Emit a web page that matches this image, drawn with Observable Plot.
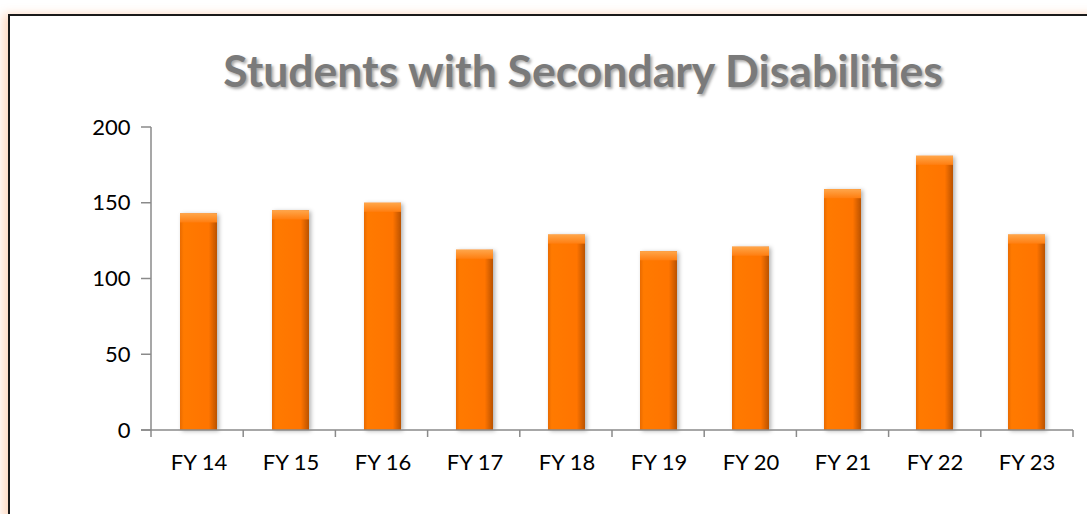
<!DOCTYPE html>
<html>
<head>
<meta charset="utf-8">
<script src="https://cdn.jsdelivr.net/npm/d3@7"></script>
<script src="https://cdn.jsdelivr.net/npm/@observablehq/plot@0.6"></script>
<style>
  html, body { margin: 0; padding: 0; background: #fff; width: 1087px; height: 514px; overflow: hidden; }
  #frame { position: absolute; left: 8px; top: 14px; width: 1100px; height: 520px; border: 2px solid #1a1a1a; box-shadow: -5px 0 9px rgba(255,150,80,0.35); }
  #title { position: absolute; left: 0; width: 1166px; top: 44px; text-align: center; font-family: Lato, "Open Sans", sans-serif; font-weight: bold; font-size: 44.5px; line-height: 52px; color: #7a7a7a; text-shadow: 2px 2px 3px rgba(0,0,0,0.35); white-space: nowrap; }
  #chart { position: absolute; left: 0; top: 100px; }
</style>
</head>
<body>
<div id="frame"></div>
<div id="title">Students with Secondary Disabilities</div>
<div id="chart"></div>
<script>
const categories = ["FY 14", "FY 15", "FY 16", "FY 17", "FY 18", "FY 19", "FY 20", "FY 21", "FY 22", "FY 23"];
const values = [143, 145, 150, 119, 129, 118, 121, 159, 181, 129];
const yTicks = [0, 50, 100, 150, 200];

const data = categories.map((c, i) => ({cat: c, value: values[i]}));

const axisColor = "#8a8a8a";

const axisLines = (index, scales, values_, dims) => {
  const g = d3.create("svg:g");
  const y = scales.y;
  const left = dims.marginLeft, right = dims.width - dims.marginRight;
  const y0 = y(0), yTop = y(200);
  g.append("line").attr("x1", left).attr("x2", left).attr("y1", yTop).attr("y2", y0 + 7)
    .attr("stroke", axisColor).attr("stroke-width", 1.5);
  g.append("line").attr("x1", left - 10).attr("x2", right).attr("y1", y0).attr("y2", y0)
    .attr("stroke", axisColor).attr("stroke-width", 1.5);
  const n = categories.length;
  const step = (right - left) / n;
  for (let i = 1; i <= n; i++) {
    const xx = left + i * step;
    g.append("line").attr("x1", xx).attr("x2", xx).attr("y1", y0).attr("y2", y0 + 7)
      .attr("stroke", axisColor).attr("stroke-width", 1.5);
  }
  for (const t of yTicks) {
    g.append("line").attr("x1", left - 10).attr("x2", left).attr("y1", y(t)).attr("y2", y(t))
      .attr("stroke", axisColor).attr("stroke-width", 1.5);
  }
  return g.node();
};

const plot = Plot.plot({
  width: 1087,
  height: 390,
  marginLeft: 151,
  marginRight: 14,
  marginTop: 27,
  marginBottom: 60,
  style: {fontFamily: "Lato, 'Open Sans', sans-serif", fontSize: "22px", color: "#000", background: "transparent"},
  x: {domain: categories, paddingInner: 0.6, paddingOuter: 0.3, label: null},
  y: {domain: [0, 200], label: null},
  marks: [
    Plot.barY(data, {x: "cat", y: "value", fill: "url(#barGrad)"}),
    Plot.rectY(data, {x: "cat", y1: d => d.value - 6, y2: "value", fill: "url(#capGrad)"}),
    axisLines,
    Plot.axisY({ticks: yTicks, tickSize: 0, tickPadding: 21, fontSize: 22, fill: "#000"}),
    Plot.axisX({tickSize: 0, tickPadding: 24, fontSize: 22, fill: "#000"})
  ]
});

const svg = d3.select(plot);
const defs = svg.insert("defs", ":first-child");
const g1 = defs.append("linearGradient").attr("id", "barGrad").attr("x1", "0").attr("x2", "1").attr("y1", "0").attr("y2", "0");
g1.append("stop").attr("offset", "0%").attr("stop-color", "#E86A00");
g1.append("stop").attr("offset", "10%").attr("stop-color", "#FF7A05");
g1.append("stop").attr("offset", "78%").attr("stop-color", "#FF7400");
g1.append("stop").attr("offset", "100%").attr("stop-color", "#BA5300");
const g2 = defs.append("linearGradient").attr("id", "capGrad").attr("x1", "0").attr("x2", "0").attr("y1", "0").attr("y2", "1");
g2.append("stop").attr("offset", "0%").attr("stop-color", "#FFA64A");
g2.append("stop").attr("offset", "100%").attr("stop-color", "#FF7E10");
const f = defs.append("filter").attr("id", "shadow").attr("x", "-30%").attr("y", "-10%").attr("width", "160%").attr("height", "130%");
f.append("feDropShadow").attr("dx", 2).attr("dy", 1).attr("stdDeviation", 2).attr("flood-color", "#000").attr("flood-opacity", 0.3);
svg.select("g[aria-label='bar']").attr("filter", "url(#shadow)");

document.getElementById("chart").appendChild(plot);
</script>
</body>
</html>
